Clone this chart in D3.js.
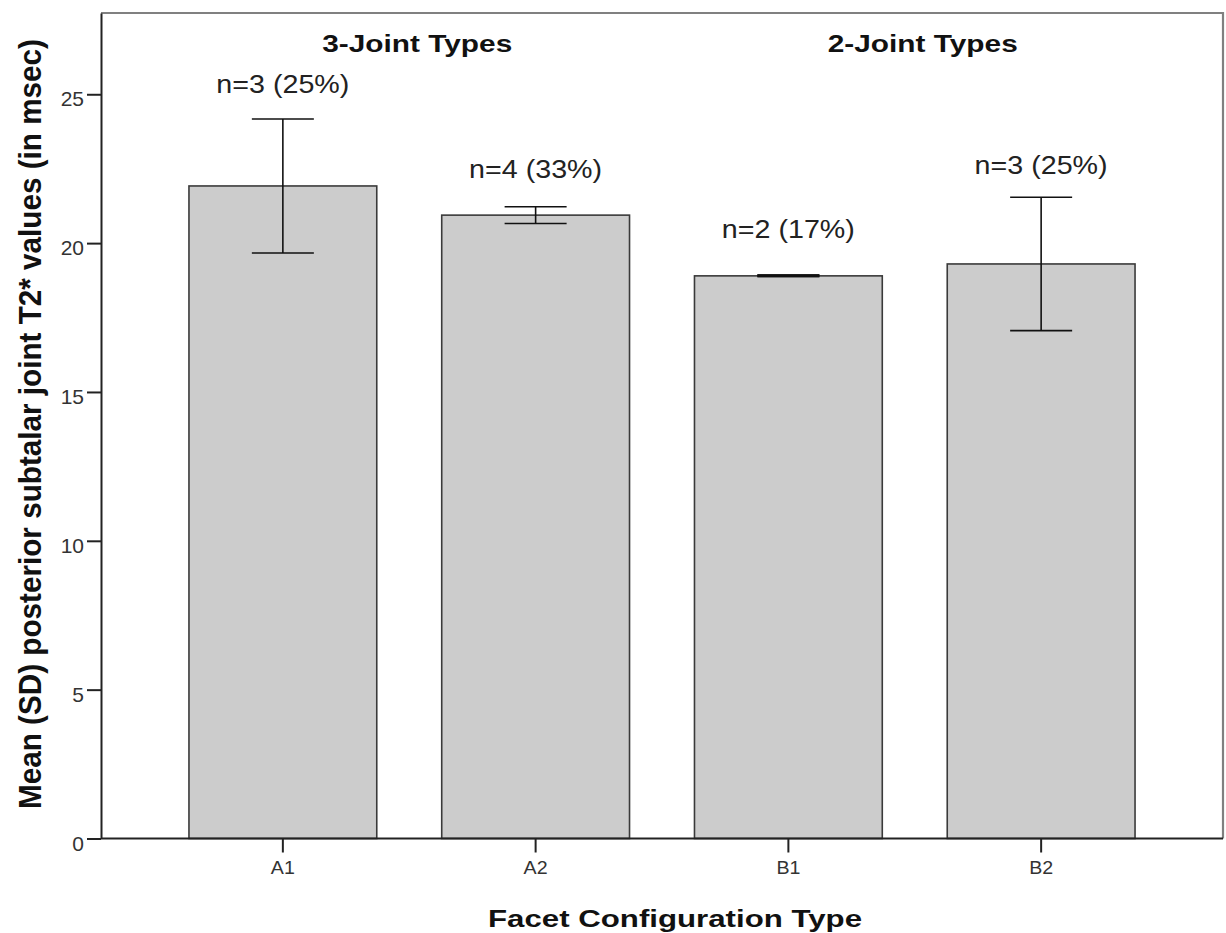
<!DOCTYPE html>
<html>
<head>
<meta charset="utf-8">
<script src="https://cdn.jsdelivr.net/npm/d3@7"></script>
<style>
  html, body { margin: 0; padding: 0; background: #fff; }
  svg { display: block; font-family: "Liberation Sans", Arial, sans-serif; }
</style>
</head>
<body>
<svg id="chart" width="1226" height="933"></svg>
<script>
// facet configuration bar chart (mean +/- SD)
const categories = ["A1", "A2", "B1", "B2"];
const means = [21.92, 20.94, 18.90, 19.30];
const sds = [2.25, 0.28, 0.0, 2.24];
const nLabels = ["n=3 (25%)", "n=4 (33%)", "n=2 (17%)", "n=3 (25%)"];
const labelAt = [25.04, 22.19, 20.17, 22.33]; // value where each n label sits
const groups = [
  { name: "3-Joint Types", members: ["A1", "A2"] },
  { name: "2-Joint Types", members: ["B1", "B2"] }
];
const yTicks = [0, 5, 10, 15, 20, 25];
const yMax = 27.73;

const W = 1226, H = 933;
const margin = { top: 13, right: 3, bottom: 94.5, left: 101 };
const iw = W - margin.left - margin.right;
const ih = H - margin.top - margin.bottom;

const svg = d3.select("#chart");
const g = svg.append("g").attr("transform", `translate(${margin.left},${margin.top})`);

const x = d3.scaleBand().domain(categories).range([0, iw])
  .paddingInner(0.257).paddingOuter(0.348);
const y = d3.scaleLinear().domain([0, yMax]).range([ih, 0]);

// frame (top + right in grey)
g.append("path")
  .attr("d", `M0,0H${iw}V${ih}`)
  .attr("fill", "none").attr("stroke", "#808080").attr("stroke-width", 2.2);

// bars
g.selectAll("rect.bar").data(categories).enter().append("rect")
  .attr("class", "bar")
  .attr("x", d => x(d))
  .attr("y", (d, i) => y(means[i]))
  .attr("width", x.bandwidth())
  .attr("height", (d, i) => ih - y(means[i]))
  .attr("fill", "#cccccc")
  .attr("stroke", "#3a3a3a")
  .attr("stroke-width", 1.6);

// error bars
const capHalf = 31;
const eb = g.selectAll("g.err").data(categories).enter().append("g").attr("class", "err");
eb.each(function (d, i) {
  const cx = x(d) + x.bandwidth() / 2;
  const hi = y(means[i] + sds[i]), lo = y(means[i] - sds[i]);
  const s = d3.select(this);
  const w = sds[i] === 0 ? 3 : 1.6;
  s.append("line").attr("x1", cx).attr("x2", cx).attr("y1", hi).attr("y2", lo);
  s.append("line").attr("x1", cx - capHalf).attr("x2", cx + capHalf).attr("y1", hi).attr("y2", hi);
  s.append("line").attr("x1", cx - capHalf).attr("x2", cx + capHalf).attr("y1", lo).attr("y2", lo);
  s.selectAll("line").attr("stroke", "#111").attr("stroke-width", w);
});

// n labels
g.selectAll("text.nlab").data(categories).enter().append("text")
  .attr("class", "nlab")
  .attr("x", d => x(d) + x.bandwidth() / 2)
  .attr("y", (d, i) => y(labelAt[i]))
  .attr("text-anchor", "middle")
  .attr("font-size", 26)
  .attr("fill", "#222")
  .attr("textLength", 133)
  .attr("lengthAdjust", "spacingAndGlyphs")
  .text((d, i) => nLabels[i]);

// group headers
g.selectAll("text.grp").data(groups).enter().append("text")
  .attr("class", "grp")
  .attr("x", d => d3.mean(d.members, m => x(m) + x.bandwidth() / 2) + 8)
  .attr("y", 38.5)
  .attr("text-anchor", "middle")
  .attr("font-size", 24)
  .attr("font-weight", "bold")
  .attr("fill", "#111")
  .attr("textLength", 190)
  .attr("lengthAdjust", "spacingAndGlyphs")
  .text(d => d.name);

// y axis
const yAxis = g.append("g")
  .call(d3.axisLeft(y).tickValues(yTicks).tickSize(14).tickPadding(3).tickSizeOuter(0));
yAxis.select(".domain").attr("stroke", "#222").attr("stroke-width", 2);
yAxis.selectAll(".tick line").attr("stroke", "#222").attr("stroke-width", 2);
yAxis.selectAll(".tick text")
  .attr("font-size", 21).attr("fill", "#333").attr("dy", "0.55em")
  .attr("font-family", "Liberation Sans, Arial, sans-serif");

// x axis
const xAxis = g.append("g").attr("transform", `translate(0,${ih})`)
  .call(d3.axisBottom(x).tickSize(14).tickPadding(8).tickSizeOuter(0));
xAxis.select(".domain").attr("stroke", "#222").attr("stroke-width", 2)
  .attr("d", `M0,0H${iw}`);
xAxis.selectAll(".tick line").attr("stroke", "#222").attr("stroke-width", 2);
xAxis.selectAll(".tick text")
  .attr("font-size", 19).attr("fill", "#333")
  .attr("textLength", 24).attr("lengthAdjust", "spacingAndGlyphs")
  .attr("font-family", "Liberation Sans, Arial, sans-serif");

// axis titles
svg.append("text")
  .attr("x", 675).attr("y", 927)
  .attr("text-anchor", "middle")
  .attr("font-size", 24).attr("font-weight", "bold").attr("fill", "#111")
  .attr("textLength", 374).attr("lengthAdjust", "spacingAndGlyphs")
  .text("Facet Configuration Type");

svg.append("text")
  .attr("transform", "translate(41,424) scale(1.3,1) rotate(-90)")
  .attr("text-anchor", "middle")
  .attr("font-size", 24).attr("font-weight", "bold").attr("fill", "#111")
  .attr("textLength", 770).attr("lengthAdjust", "spacingAndGlyphs")
  .text("Mean (SD) posterior subtalar joint T2* values (in msec)");
</script>
</body>
</html>
